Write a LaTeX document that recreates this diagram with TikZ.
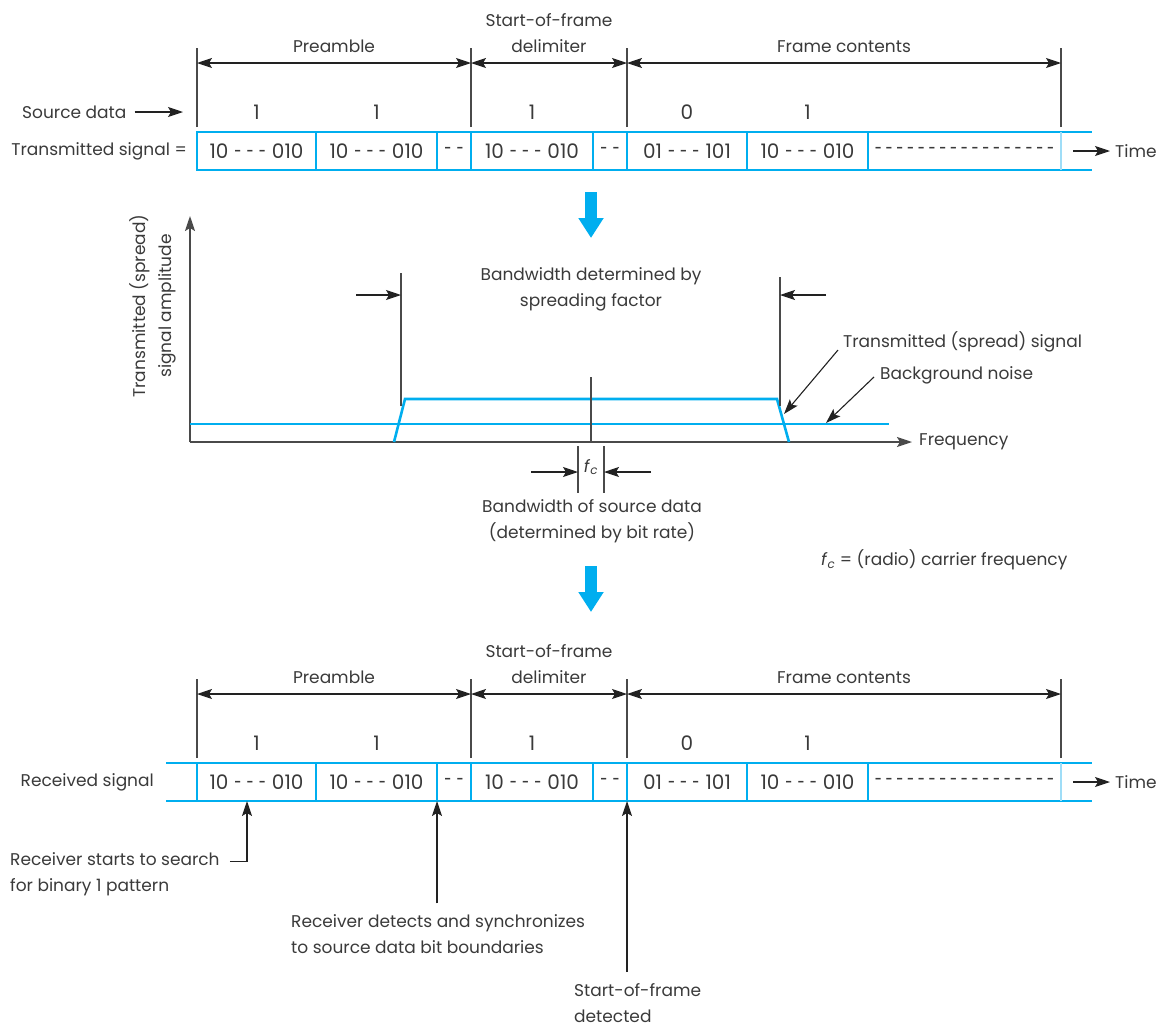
\documentclass[tikz,border=0pt]{standalone}
\usepackage{fontspec}
\usepackage{graphicx}
\setmainfont{Poppins}
\usetikzlibrary{arrows.meta, positioning, calc}
\definecolor{sigBlue}{HTML}{00AEEF}
\definecolor{endBlue}{HTML}{9FDDF7}
\definecolor{inkText}{HTML}{3A3A3A}
\definecolor{inkLine}{HTML}{4A4A4A}
\definecolor{inkArrow}{HTML}{222222}

% short hyphen used inside the chip patterns
\newcommand{\hy}{\scalebox{0.65}[1]{-}}
\newcommand{\chips}[2]{#1\kern6pt\hy\kern5pt\hy\kern5pt\hy\kern6pt#2}

\begin{document}
\begin{tikzpicture}[
    x=1pt, y=-1pt,
    >={Stealth[length=15pt, width=10pt, inset=3pt]},
    lbl/.style={font=\fontsize{17}{26}\selectfont, text=inkText, inner sep=0pt, align=center},
    bit/.style={lbl, font=\fontsize{20}{24}\selectfont},
    cell/.style={bit, draw=sigBlue, line width=2.4pt, outer sep=0pt, minimum height=38pt},
    rail/.style={sigBlue, line width=2.4pt},
    tick/.style={inkLine, line width=1.2pt},
    span/.style={<->, inkArrow, line width=1.1pt},
    ptr/.style={->, inkArrow, line width=1.1pt},
    axis/.style={->, inkLine, line width=1.6pt},
    sig/.style={sigBlue, line width=2.6pt, line join=miter},
    bigdown/.style={sigBlue, line width=12pt, -{Triangle[length=20pt, width=24pt]}},
]
\useasboundingbox (0,0) rectangle (1173,1029);

% --- the two bit strips (transmitted on top, received below) ---
\foreach \p/\dy in {t/0, r/631} {
  \begin{scope}[shift={(0,\dy)}]
    \node[cell, minimum width=119pt, anchor=west] (\p c1) at (197,151) {\chips{10}{010}};
    \foreach \i/\w/\t [remember=\i as \j (initially 1)] in
        {2/121/{\chips{10}{010}}, 3/34/{\hy\kern5pt\hy}, 4/122/{\chips{10}{010}},
         5/34/{\hy\kern5pt\hy}, 6/120/{\chips{01}{101}}, 7/121/{\chips{10}{010}}}
      \node[cell, minimum width=\w pt, right=0pt of \p c\j] (\p c\i) {\t};
    \node[bit, outer sep=0pt, minimum width=193pt, minimum height=38pt,
          right=0pt of \p c7] (\p c8) {\foreach \n in {1,...,16}{\hy\kern3.6pt}\hy};

    \draw[rail] (\p c1.north west) -- ($(\p c8.north east)+(31,0)$);
    \draw[rail] (\p c1.south west) -- ($(\p c8.south east)+(31,0)$);
    \draw[endBlue, line width=1.2pt] (\p c8.north east) -- (\p c8.south east);

    % field boundaries
    \foreach \k/\a in {1/\p c1.north west, 2/\p c4.north west,
                       3/\p c6.north west, 4/\p c8.north east} {
      \coordinate (\p k\k) at ($(\a)+(0,-69)$);
      \draw[tick] ($(\a)+(0,-5)$) -- ++(0,-79);
    }
    \draw[span] (\p k1) -- node[lbl, above=10pt] (\p pre) {Preamble} (\p k2);
    \draw[span] (\p k2) -- node[lbl, above=10pt] (\p sfd) {Start-of-frame\\delimiter} (\p k3);
    \draw[span] (\p k3) -- node[lbl, above=10pt] (\p fcon) {Frame contents} (\p k4);

    \foreach \i/\d in {1/1, 2/1, 4/1, 6/0, 7/1}
      \node[bit, above=12pt of \p c\i] (\p d\i) {\d};

    \node[lbl, anchor=west] (\p tm) at ($(\p c8.east)+(54,0)$) {Time};
    \draw[ptr] ($(\p c8.east)+(12,0)$) -- ([xshift=-5pt]\p tm.west);
  \end{scope}
}

\node[lbl, left=10pt of tc1] (txLbl) {Transmitted signal =};
\node[lbl, anchor=west] (srcLbl) at (22,112) {Source data};
\draw[ptr] ([xshift=8pt]srcLbl.east) -- ($(tc1.west |- srcLbl.east)+(-14,0)$);

\node[lbl, left=43pt of rc1] (rxLbl) {Received signal};
\draw[rail] (rc1.north west) -- ++(-31,0);
\draw[rail] (rc1.south west) -- ++(-31,0);

% --- down arrows between the stages ---
\coordinate (dn1) at (591,192);
\coordinate (dn1e) at (591,238);
\coordinate (dn2) at (591,566);
\coordinate (dn2e) at (591,612);
\draw[bigdown] (dn1) -- (dn1e);
\draw[bigdown] (dn2) -- (dn2e);

% --- spectrum ---
\coordinate (org) at (190,442);
\coordinate (yTop) at (190,216);
\coordinate (xEnd) at (912,442);
\draw[axis] (org) -- (yTop);
\draw[axis] (org) -- (xEnd);
\node[lbl, right=7pt of xEnd] (freqLbl) {Frequency};
\node[lbl, rotate=90] (ampLbl) at (153,306) {Transmitted (spread)\\signal amplitude};

\draw[sig] (190,424) -- (889,424);
\draw[sig] (394,442) -- (405,399) -- (777,399) -- (789,442);
\draw[tick] (591,377) -- (591,442);

\coordinate (bwL) at (401,406);
\coordinate (bwR) at (780,406);
\draw[tick] (bwL) -- ++(0,-133);
\draw[tick] (bwR) -- ++(0,-129);
\draw[ptr] ($(bwL)+(-45,-111)$) -- ($(bwL)+(0,-111)$);
\draw[ptr] ($(bwR)+(46,-111)$) -- ($(bwR)+(0,-111)$);
\node[lbl] (bwSpread) at (591,289) {Bandwidth determined by\\spreading factor};

\coordinate (fcL) at (578,446);
\coordinate (fcR) at (604,446);
\draw[tick] (fcL) -- ++(0,47);
\draw[tick] (fcR) -- ++(0,47);
\draw[ptr] ($(fcL)+(-47,26)$) -- ($(fcL)+(0,26)$);
\draw[ptr] ($(fcR)+(47,26)$) -- ($(fcR)+(0,26)$);
\node[lbl] (fcMark) at (591,467) {\textit{f}\textsubscript{\textit{c}}};
\node[lbl] (bwSrc) at (592,521) {Bandwidth of source data\\(determined by bit rate)};

\node[lbl, anchor=west] (sigLbl) at (843,342) {Transmitted (spread) signal};
\node[lbl, anchor=west] (noiseLbl) at (880,375) {Background noise};
\coordinate (sigTip) at (784,414);
\coordinate (noiseTip) at (826,423);
\draw[ptr] ([xshift=-5pt, yshift=-8pt]sigLbl.west) -- (sigTip);
\draw[ptr] ([xshift=-6pt, yshift=-2pt]noiseLbl.west) -- (noiseTip);
\node[lbl, anchor=west] (fcNote) at (821,560) {\textit{f}\textsubscript{\textit{c}} = (radio) carrier frequency};

% --- receiver events ---
\node[lbl, align=left, anchor=west] (searchLbl) at (10,874) {Receiver starts to search\\for binary 1 pattern};
\coordinate (searchTip) at (247,801);
\draw[ptr] ([xshift=10pt, yshift=-9pt]searchLbl.north east) -| (searchTip);

\node[lbl, align=left, anchor=west] (syncLbl) at (291,934) {Receiver detects and synchronizes\\to source data bit boundaries};
\draw[ptr] ($(rc2.south east |- syncLbl.north)+(0,-11)$) -- (rc2.south east);

\node[lbl, align=left, anchor=west] (sofLbl) at (574,1003) {Start-of-frame\\detected};
\draw[ptr] ($(rc6.south west |- sofLbl.north)+(0,-11)$) -- (rc6.south west);

\end{tikzpicture}
\end{document}
